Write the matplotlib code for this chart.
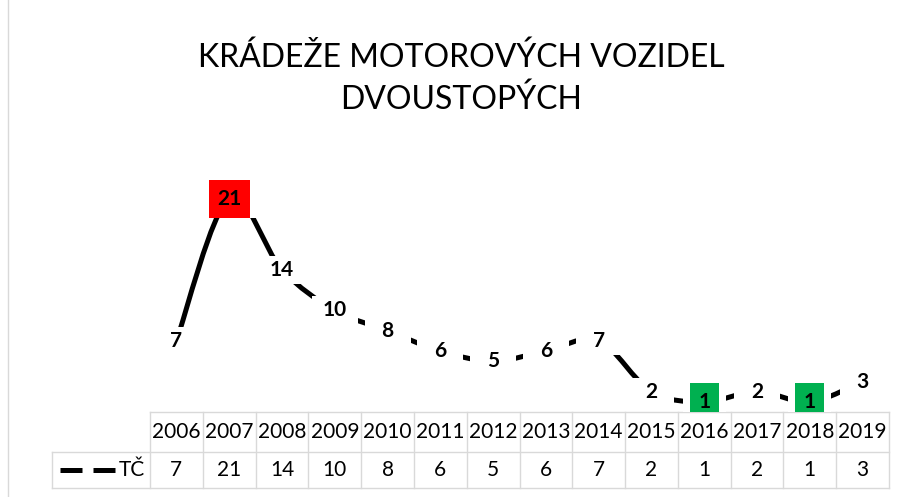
import matplotlib
matplotlib.use("Agg")
import matplotlib.pyplot as plt
from matplotlib.path import Path
from matplotlib.patches import PathPatch, Rectangle
from matplotlib.lines import Line2D

years = ["2006", "2007", "2008", "2009", "2010", "2011", "2012",
         "2013", "2014", "2015", "2016", "2017", "2018", "2019"]
tc = [7, 21, 14, 10, 8, 6, 5, 6, 7, 2, 1, 2, 1, 3]
series_name = "TČ"
title = "KRÁDEŽE MOTOROVÝCH VOZIDEL\nDVOUSTOPÝCH"

FONT = ["Lato", "DejaVu Sans"]
GRID = "#d9d9d9"
W, H = 906, 497

fig = plt.figure(figsize=(W / 100, H / 100), dpi=100)


def fx(px):
    return px / W


def fy(py):
    return 1 - py / H


# chart border (only left edge visible)
fig.add_artist(Line2D([fx(8), fx(8)], [0, 1], color=GRID, lw=1))

fig.text(fx(461), fy(79), title, ha="center", va="center",
         fontsize=23, family=FONT, linespacing=1.45, color="#000000")

# main plot area
x0, x1 = 150, 889
ytop, ybot = 158, 412
ax = fig.add_axes([fx(x0), fy(ybot), fx(x1 - x0), fy(ytop) - fy(ybot)])
ax.set_xlim(-0.5, len(years) - 0.5)
ax.set_ylim(0, 25)
ax.axis("off")
ax.set_zorder(3)
px_x = (x1 - x0) / len(years)   # pixels per x unit
px_y = (ybot - ytop) / 25       # pixels per y unit

# smoothed line (bezier like Excel's smoothed line)
n = len(tc)
pts = list(zip(range(n), tc))
verts = [pts[0]]
codes = [Path.MOVETO]
for i in range(n - 1):
    p0 = pts[max(i - 1, 0)]
    p1 = pts[i]
    p2 = pts[i + 1]
    p3 = pts[min(i + 2, n - 1)]
    c1 = (p1[0] + (p2[0] - p0[0]) / 6, p1[1] + (p2[1] - p0[1]) / 6)
    c2 = (p2[0] - (p3[0] - p1[0]) / 6, p2[1] - (p3[1] - p1[1]) / 6)
    verts += [c1, c2, p2]
    codes += [Path.CURVE4] * 3
ax.add_patch(PathPatch(Path(verts, codes), fill=False, edgecolor="black",
                       lw=3.6, capstyle="butt", zorder=2))


def box(i, v, w, h, color, z):
    ax.add_patch(Rectangle((i - w / px_x / 2, v - h / px_y / 2),
                           w / px_x, h / px_y, fc=color, ec="none", zorder=z))


# data labels
vmax, vmin = max(tc), min(tc)
for i, v in enumerate(tc):
    s = str(v)
    if v == vmax or v == vmin:
        w = 17 + 12 * len(s)
        box(i, v, w + 14, 38, "white", 3)
        box(i, v, w, 38, "#ff0000" if v == vmax else "#00b050", 4)
    else:
        box(i, v, 46, 28, "white", 3)
    ax.text(i, v, s, ha="center", va="center", fontsize=15,
            fontweight="bold", family=FONT, zorder=5)

# data table
tab = fig.add_axes([fx(x0), fy(488), fx(x1 - x0), fy(412) - fy(488)])
tab.set_xlim(-0.5, len(years) - 0.5)
tab.set_ylim(-36, 40)
tab.axis("off")
tab.set_zorder(1)
left = -0.5 - (x0 - 52) / px_x

kw = dict(color=GRID, lw=1, clip_on=False)
tab.plot([-0.5, len(years) - 0.5], [40, 40], **kw)
tab.plot([left, len(years) - 0.5], [0, 0], **kw)
tab.plot([left, len(years) - 0.5], [-36, -36], **kw)
tab.plot([left, left], [-36, 0], **kw)
for k in range(len(years) + 1):
    tab.plot([k - 0.5, k - 0.5], [-36, 40], **kw)

for i, (yr, v) in enumerate(zip(years, tc)):
    tab.text(i, 20, yr, ha="center", va="center", fontsize=15, family=FONT)
    tab.text(i, -18, str(v), ha="center", va="center", fontsize=15, family=FONT)

# legend key
tab.add_line(Line2D([left + 0.15, left + 1.2], [-18, -18], color="black",
                    lw=3.6, linestyle=(0, (4.4, 2.2)), clip_on=False))
tab.text(-0.6, -18, series_name, ha="right", va="center", fontsize=15,
         family=FONT)

fig.savefig("out.png", dpi=100, facecolor="white")
